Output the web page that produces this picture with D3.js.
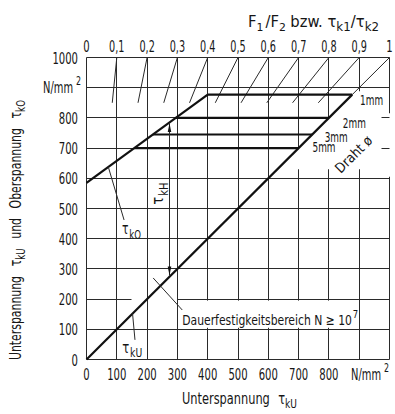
<!DOCTYPE html>
<html lang="de">
<head>
<meta charset="UTF-8">
<title>Dauerfestigkeitsschaubild Druckfedern</title>
<script src="https://d3js.org/d3.v7.min.js"></script>
<style>
  body { margin: 0; background: #fff; }
  svg text { font-family: "DejaVu Sans Condensed", "Liberation Sans Narrow", sans-serif; fill: #161616; }
  .grid line { stroke: #2a2a2a; stroke-width: 1; }
  .thick { stroke: #111; stroke-width: 2.2; fill: none; }
  .thin { stroke: #2a2a2a; stroke-width: 1; fill: none; }
  .tick { font-size: 15px; }
  .lbl { font-size: 14px; }
</style>
</head>
<body>
<div id="chart"></div>
<script>
// stress axes (N/mm2), bottom and left
const stressTicks = [0, 100, 200, 300, 400, 500, 600, 700, 800, 900, 1000];
const yTickLabels = ["0", "100", "200", "300", "400", "500", "600", "700", "800", "", "1000"];
const xTickLabels = ["0", "100", "200", "300", "400", "500", "600", "700", "800", "", ""];

// ratio axis on top (F1/F2 = tau_k1/tau_k2)
const ratioTicks = [0, 0.1, 0.2, 0.3, 0.4, 0.5, 0.6, 0.7, 0.8, 0.9, 1];
const ratioLabels = ["0", "0,1", "0,2", "0,3", "0,4", "0,5", "0,6", "0,7", "0,8", "0,9", "1"];
// where the ratio rays stop (tau_kO level)
const rayEnds = [850, 850, 850, 850, 850, 850, 850, 850, 850, 877];

// upper stress line tau_kO and lower stress line tau_kU
const upperLine = [[0, 585], [400, 877]];
const lowerLine = [[0, 0], [877, 877]];

// wire diameters: tau_kO level of each
const wireNames = ["1mm", "2mm", "3mm", "5mm"];
const wireLevels = [877, 800, 745, 700];
const wireLabelPos = [[903, 843], [846, 768], [786, 720], [746, 687]];

// stroke range arrow tau_kH
const hubAt = 275;

const W = 395, H = 414;
const x = d3.scaleLinear().domain([0, 1000]).range([86.5, 389.5]);
const y = d3.scaleLinear().domain([0, 1000]).range([359.5, 57.5]);
const xr = d3.scaleLinear().domain([0, 1]).range([86.5, 389.5]);
const upper = d3.scaleLinear().domain(upperLine.map(d => d[0])).range(upperLine.map(d => d[1]));

const px = v => Math.round(x(v) - 0.5) + 0.5;
const py = v => Math.round(y(v) - 0.5) + 0.5;

// the drawing font is a narrow technical lettering: compress text to the measured width
const squeeze = (sel, len) => sel.attr("textLength", len).attr("lengthAdjust", "spacingAndGlyphs");
const numWidth = s => s.replace(/,/g, "").length * 6.4 + (s.split(",").length - 1) * 2.6;

const svg = d3.select("#chart").append("svg")
    .attr("width", W).attr("height", H);

const line = d3.line().x(d => x(d[0])).y(d => y(d[1]));

const defs = svg.append("defs");
defs.append("marker")
    .attr("id", "ah")
    .attr("viewBox", "0 0 10 10")
    .attr("refX", 10).attr("refY", 5)
    .attr("markerWidth", 9).attr("markerHeight", 9)
    .attr("markerUnits", "userSpaceOnUse")
    .attr("orient", "auto-start-reverse")
  .append("path")
    .attr("d", "M0,3 L10,5 L0,7 Z")
    .attr("fill", "#111");

// grid
const grid = svg.append("g").attr("class", "grid");
grid.selectAll(".v").data(stressTicks).join("line")
    .attr("class", "v")
    .attr("x1", d => px(d)).attr("x2", d => px(d))
    .attr("y1", py(0)).attr("y2", py(1000));

const hSegs = stressTicks.flatMap(t => t === 200 ? [[t, 0, 150], [t, 300, 1000]] : [[t, 0, 1000]]);
grid.selectAll(".h").data(hSegs).join("line")
    .attr("class", "h")
    .attr("x1", d => px(d[1])).attr("x2", d => px(d[2]))
    .attr("y1", d => py(d[0])).attr("y2", d => py(d[0]));

// blank field right of the diagonal for the wire labels
const maskRight = [[630, 630], [888, 888], [996, 888], [996, 815], [1005, 815], [1005, 605], [996, 605], [996, 630]];
svg.append("path").attr("d", line(maskRight) + "Z").attr("fill", "#fff");
// blank band under the endurance label
svg.append("rect")
    .attr("x", x(303)).attr("y", y(195))
    .attr("width", x(893) - x(303)).attr("height", y(105) - y(195))
    .attr("fill", "#fff");

// short grid stubs at the right border
const stubs = [800, 700];
svg.append("g").attr("class", "grid").selectAll("line").data(stubs).join("line")
    .attr("x1", px(975)).attr("x2", px(1000))
    .attr("y1", d => py(d)).attr("y2", d => py(d));

// ratio rays tau_kU = r * tau_kO
svg.append("g").selectAll("line").data(ratioTicks.slice(1)).join("line")
    .attr("class", "thin")
    .attr("x1", d => x(1000 * d)).attr("y1", y(1000))
    .attr("x2", (d, i) => x(rayEnds[i] * d)).attr("y2", (d, i) => y(rayEnds[i]));

// main lines
svg.append("path").attr("class", "thick").attr("d", line(upperLine));
svg.append("path").attr("class", "thick").attr("d", line(lowerLine));
svg.append("g").selectAll("line").data(wireLevels).join("line")
    .attr("class", "thick")
    .attr("x1", d => x(upper.invert(d))).attr("x2", d => x(d))
    .attr("y1", d => y(d)).attr("y2", d => y(d));

// tau_kH arrow
svg.append("line")
    .attr("class", "thin")
    .attr("x1", px(hubAt)).attr("x2", px(hubAt))
    .attr("y1", y(upper(hubAt)) + 1).attr("y2", y(hubAt) - 1)
    .attr("marker-start", "url(#ah)").attr("marker-end", "url(#ah)");

// leader lines
const leaders = [
  [[72, upper(72)], [124, 462]],
  [[152, 152], [160, 65]],
  [[220, 270], [316, 164]]
];
svg.append("g").selectAll("path").data(leaders).join("path")
    .attr("class", "thin").attr("d", d => line(d));

// tick labels
svg.append("g").selectAll("text").data(stressTicks).join("text")
    .attr("class", "tick")
    .attr("x", 78).attr("y", d => y(d) + 6)
    .attr("text-anchor", "end")
    .text((d, i) => yTickLabels[i])
    .each(function(d, i) { if (yTickLabels[i]) squeeze(d3.select(this), numWidth(yTickLabels[i])); });

svg.append("g").selectAll("text").data(stressTicks).join("text")
    .attr("class", "tick")
    .attr("x", d => x(d)).attr("y", 380)
    .attr("text-anchor", "middle")
    .text((d, i) => xTickLabels[i])
    .each(function(d, i) { if (xTickLabels[i]) squeeze(d3.select(this), numWidth(xTickLabels[i])); });

svg.append("g").selectAll("text").data(ratioTicks).join("text")
    .attr("class", "tick")
    .attr("x", d => xr(d)).attr("y", 52)
    .attr("text-anchor", "middle")
    .text((d, i) => ratioLabels[i])
    .each(function(d, i) { squeeze(d3.select(this), numWidth(ratioLabels[i])); });

function unit(xp, yp) {
  const t = svg.append("text").attr("class", "tick").attr("x", xp).attr("y", yp);
  t.append("tspan").text("N/mm");
  t.append("tspan").attr("dx", 4).attr("dy", -8).style("font-size", "12px").text("2");
  squeeze(t, 38);
}
unit(43, y(900) + 5);
unit(351, 380);

// tau with subscript
function tau(g, xp, yp, sub, size, len) {
  const t = g.append("text").attr("x", xp).attr("y", yp).style("font-size", size + "px");
  t.append("tspan").text("τ");
  t.append("tspan").attr("dy", size * 0.3).attr("dx", 1).style("font-size", (size * 0.8) + "px").text(sub);
  squeeze(t, len);
  return t;
}

// titles
const topTitle = svg.append("text").attr("x", 248).attr("y", 27).style("font-size", "15px");
topTitle.append("tspan").text("F");
topTitle.append("tspan").attr("dy", 4).style("font-size", "11px").text("1");
topTitle.append("tspan").attr("dy", -4).attr("dx", 2).text("/F");
topTitle.append("tspan").attr("dy", 4).style("font-size", "11px").text("2");
topTitle.append("tspan").attr("dy", -4).attr("dx", 4).text("bzw.  τ");
topTitle.append("tspan").attr("dy", 4).style("font-size", "12px").text("k1");
topTitle.append("tspan").attr("dy", -4).text("/τ");
topTitle.append("tspan").attr("dy", 4).style("font-size", "12px").text("k2");
squeeze(topTitle, 131);

const bottomTitle = svg.append("text").attr("x", 182).attr("y", 404).style("font-size", "15px");
bottomTitle.append("tspan").text("Unterspannung");
bottomTitle.append("tspan").attr("dx", 10).text("τ");
bottomTitle.append("tspan").attr("dy", 4).style("font-size", "12px").text("kU");
squeeze(bottomTitle, 115);

const leftTitle = svg.append("g").attr("transform", "translate(21,230) rotate(-90)")
  .append("text").attr("text-anchor", "middle").style("font-size", "15px");
leftTitle.append("tspan").text("Unterspannung");
leftTitle.append("tspan").attr("dx", 12).text("τ");
leftTitle.append("tspan").attr("dy", 4).style("font-size", "12px").text("kU");
leftTitle.append("tspan").attr("dy", -4).attr("dx", 12).text("und");
leftTitle.append("tspan").attr("dx", 12).text("Oberspannung");
leftTitle.append("tspan").attr("dx", 12).text("τ");
leftTitle.append("tspan").attr("dy", 4).style("font-size", "12px").text("kO");
squeeze(leftTitle, 260);

// curve labels
tau(svg, x(117), y(415), "kO", 15, 19);
tau(svg, x(118), y(22), "kU", 15, 20);
const hub = svg.append("g").attr("transform", `translate(${x(254)},${y(550)}) rotate(-90)`);
tau(hub, 0, 0, "kH", 15, 22).attr("text-anchor", "middle");

const dauer = svg.append("text").attr("x", x(316)).attr("y", y(114)).style("font-size", "14px");
dauer.append("tspan").text("Dauerfestigkeitsbereich  N ≥ 10");
dauer.append("tspan").attr("dy", -7).attr("dx", 1).style("font-size", "11px").text("7");
squeeze(dauer, 176);

// wire labels
svg.append("g").selectAll("text").data(wireNames).join("text")
    .attr("class", "lbl")
    .attr("x", (d, i) => x(wireLabelPos[i][0])).attr("y", (d, i) => y(wireLabelPos[i][1]))
    .text(d => d)
    .each(function() { squeeze(d3.select(this), 23); });

squeeze(svg.append("text")
    .attr("class", "lbl")
    .attr("transform", `translate(${x(893)},${y(668)}) rotate(-45)`)
    .attr("text-anchor", "middle")
    .text("Draht ø"), 46);
</script>
</body>
</html>
